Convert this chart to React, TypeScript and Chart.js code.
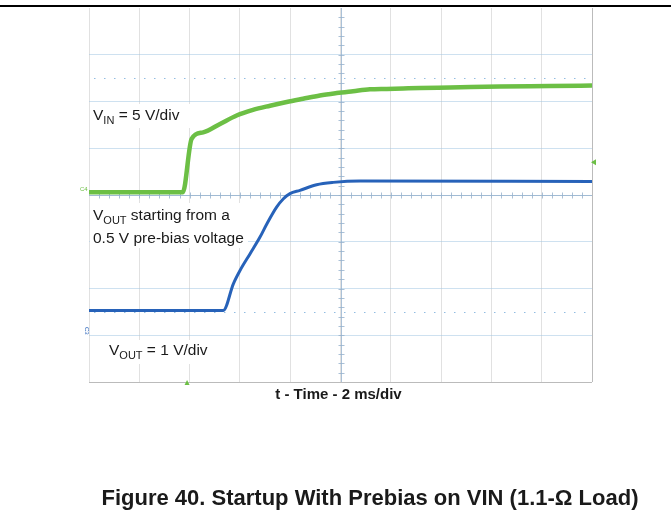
import React, { useEffect, useRef } from "react";
import { Chart, registerables } from "chart.js";

Chart.register(...registerables);

// Time axis in ms (2 ms/div, 10 divisions), vertical axis in screen divisions (8 divisions)
const vinTimeMs = [-10, -6.27, -5.92, -5.46, -4.79, -4.13, -3.48, -2.8, -2.14, -1.49, -0.82, -0.15, 0.5, 1.17, 1.84, 2.49, 3.16, 4.35, 6.34, 8.33, 10];
const vinDiv = [0.06, 0.06, 1.2, 1.34, 1.52, 1.7, 1.82, 1.91, 1.99, 2.06, 2.13, 2.18, 2.22, 2.26, 2.27, 2.28, 2.29, 2.3, 2.32, 2.33, 2.34];

const voutTimeMs = [-10, -4.66, -4.26, -3.99, -3.6, -3.2, -2.93, -2.54, -2.27, -2.01, -1.61, -0.95, -0.29, 0.78, 10];
const voutDiv = [-2.47, -2.47, -1.9, -1.61, -1.26, -0.9, -0.62, -0.26, -0.08, 0.03, 0.1, 0.22, 0.27, 0.3, 0.29];

const xRangeMs = [-10, 10];
const yRangeDiv = [-4, 4];
const refLevelsDiv = [2.5, -2.5];
const triggerLevelDiv = 0.7;
const triggerTimeMs = -6.1;

const xTitle = "t - Time - 2 ms/div";
const figureTitle = "Figure 40. Startup With Prebias on VIN (1.1-Ω Load)";

const GREEN = "#6cbf45";
const BLUE = "#2762b9";
const FONT = '"Liberation Sans", Arial, Helvetica, sans-serif';

type Part = { t: string; sub?: boolean };

function drawParts(ctx: CanvasRenderingContext2D, x: number, y: number, parts: Part[], size: number, subSize: number) {
  let cx = x;
  for (const p of parts) {
    ctx.font = `${p.sub ? subSize : size}px ${FONT}`;
    ctx.fillText(p.t, cx, p.sub ? y + 4 : y);
    cx += ctx.measureText(p.t).width;
  }
}

const overlay = {
  id: "overlay",
  beforeDatasetsDraw(chart: any) {
    const { ctx, chartArea: a, scales } = chart;
    const x = scales.x;
    const y = scales.y;
    ctx.save();
    // dotted reference levels
    ctx.strokeStyle = "rgba(110,165,215,0.75)";
    ctx.lineWidth = 1;
    ctx.setLineDash([1.5, 8.5]);
    for (const lv of refLevelsDiv) {
      const py = Math.round(y.getPixelForValue(lv)) + 0.5;
      ctx.beginPath();
      ctx.moveTo(a.left + 5, py);
      ctx.lineTo(a.right, py);
      ctx.stroke();
    }
    ctx.setLineDash([]);
    // center cross
    const cx = Math.round(x.getPixelForValue(0)) + 0.5;
    const cy = Math.round(y.getPixelForValue(0)) + 0.5;
    ctx.strokeStyle = "rgba(150,178,205,0.8)";
    ctx.beginPath();
    ctx.moveTo(cx, a.top);
    ctx.lineTo(cx, a.bottom);
    ctx.moveTo(a.left, cy);
    ctx.lineTo(a.right, cy);
    ctx.stroke();
    ctx.beginPath();
    for (let i = 1; i < 50; i++) {
      const px = Math.round(x.getPixelForValue(xRangeMs[0] + i * 0.4)) + 0.5;
      ctx.moveTo(px, cy - 3);
      ctx.lineTo(px, cy + 3);
    }
    for (let i = 1; i < 40; i++) {
      const py = Math.round(y.getPixelForValue(yRangeDiv[0] + i * 0.2)) + 0.5;
      ctx.moveTo(cx - 3, py);
      ctx.lineTo(cx + 3, py);
    }
    ctx.stroke();

    // label boxes + labels
    ctx.fillStyle = "#ffffff";
    ctx.fillRect(a.left + 1, 104, 101, 24);
    ctx.fillRect(a.left + 1, 203, 158, 45);
    ctx.fillRect(100, 340, 115, 24);
    ctx.fillStyle = "#1a1a1a";
    ctx.textBaseline = "alphabetic";
    ctx.textAlign = "left";
    drawParts(ctx, 93, 120, [{ t: "V" }, { t: "IN", sub: true }, { t: " = 5 V/div" }], 15.5, 11);
    drawParts(ctx, 93, 220, [{ t: "V" }, { t: "OUT", sub: true }, { t: " starting from a" }], 15.5, 11);
    drawParts(ctx, 93, 243, [{ t: "0.5 V pre-bias voltage" }], 15.5, 11);
    drawParts(ctx, 109, 355, [{ t: "V" }, { t: "OUT", sub: true }, { t: " = 1 V/div" }], 15.5, 11);
    ctx.restore();
  },
  afterDraw(chart: any) {
    const { ctx, chartArea: a, scales, width } = chart;
    const x = scales.x;
    const y = scales.y;
    ctx.save();
    // top rule
    ctx.fillStyle = "#000";
    ctx.fillRect(0, 5, width, 2);
    // axis title
    ctx.fillStyle = "#1a1a1a";
    ctx.textAlign = "center";
    ctx.textBaseline = "alphabetic";
    ctx.font = `bold 15px ${FONT}`;
    ctx.fillText(xTitle, (a.left + a.right) / 2 - 2, 399);
    // figure title
    ctx.font = `bold 22px ${FONT}`;
    ctx.fillText(figureTitle, 370, 505);
    // channel markers
    ctx.fillStyle = GREEN;
    ctx.font = `6px ${FONT}`;
    ctx.textAlign = "left";
    ctx.fillText("C4", a.left - 9, y.getPixelForValue(0.06) - 1);
    ctx.fillStyle = BLUE;
    ctx.save();
    ctx.translate(a.left - 4, 331);
    ctx.rotate(Math.PI / 2);
    ctx.fillText("C3", -4, 0);
    ctx.restore();
    // trigger arrows
    ctx.fillStyle = GREEN;
    const ty = y.getPixelForValue(triggerLevelDiv);
    ctx.beginPath();
    ctx.moveTo(a.right - 1, ty);
    ctx.lineTo(a.right + 4, ty - 3);
    ctx.lineTo(a.right + 4, ty + 3);
    ctx.closePath();
    ctx.fill();
    const tx = x.getPixelForValue(triggerTimeMs);
    ctx.beginPath();
    ctx.moveTo(tx, a.bottom - 2);
    ctx.lineTo(tx - 2.5, a.bottom + 3);
    ctx.lineTo(tx + 2.5, a.bottom + 3);
    ctx.closePath();
    ctx.fill();
    ctx.restore();
  },
};

export default function App() {
  const ref = useRef<HTMLCanvasElement | null>(null);
  useEffect(() => {
    if (!ref.current) return;
    const chart = new Chart(ref.current, {
      type: "line",
      data: {
        datasets: [
          {
            label: "VOUT",
            data: voutTimeMs.map((t, i) => ({ x: t, y: voutDiv[i] })),
            borderColor: BLUE,
            borderWidth: 3,
            pointRadius: 0,
            cubicInterpolationMode: "monotone",
            fill: false,
          },
          {
            label: "VIN",
            data: vinTimeMs.map((t, i) => ({ x: t, y: vinDiv[i] })),
            borderColor: GREEN,
            borderWidth: 4.5,
            pointRadius: 0,
            cubicInterpolationMode: "monotone",
            fill: false,
          },
        ],
      },
      options: {
        animation: false,
        responsive: false,
        devicePixelRatio: 1,
        layout: { padding: { left: 89, right: 79, top: 8, bottom: 147 } },
        plugins: { legend: { display: false }, tooltip: { enabled: false }, title: { display: false } },
        scales: {
          x: {
            type: "linear",
            min: xRangeMs[0],
            max: xRangeMs[1],
            ticks: { display: false, stepSize: 2 },
            grid: {
              drawTicks: false,
              color: (c: any) => (c.tick && c.tick.value === xRangeMs[1] ? "rgba(170,170,170,0.8)" : "rgba(200,200,200,0.55)"),
              lineWidth: 1,
            },
            border: { display: false },
          },
          y: {
            type: "linear",
            min: yRangeDiv[0],
            max: yRangeDiv[1],
            ticks: { display: false, stepSize: 1 },
            grid: {
              drawTicks: false,
              color: (c: any) =>
                c.tick && c.tick.value === yRangeDiv[1]
                  ? "rgba(0,0,0,0)"
                  : c.tick && c.tick.value === yRangeDiv[0]
                  ? "rgba(170,170,170,0.8)"
                  : "rgba(165,200,228,0.55)",
              lineWidth: 1,
            },
            border: { display: false },
          },
        },
      },
      plugins: [overlay],
    });
    return () => chart.destroy();
  }, []);
  return (
    <div style={{ position: "absolute", left: 0, top: 0, width: 671, height: 529, background: "#fff" }}>
      <canvas ref={ref} width={671} height={529} style={{ display: "block" }} />
    </div>
  );
}
